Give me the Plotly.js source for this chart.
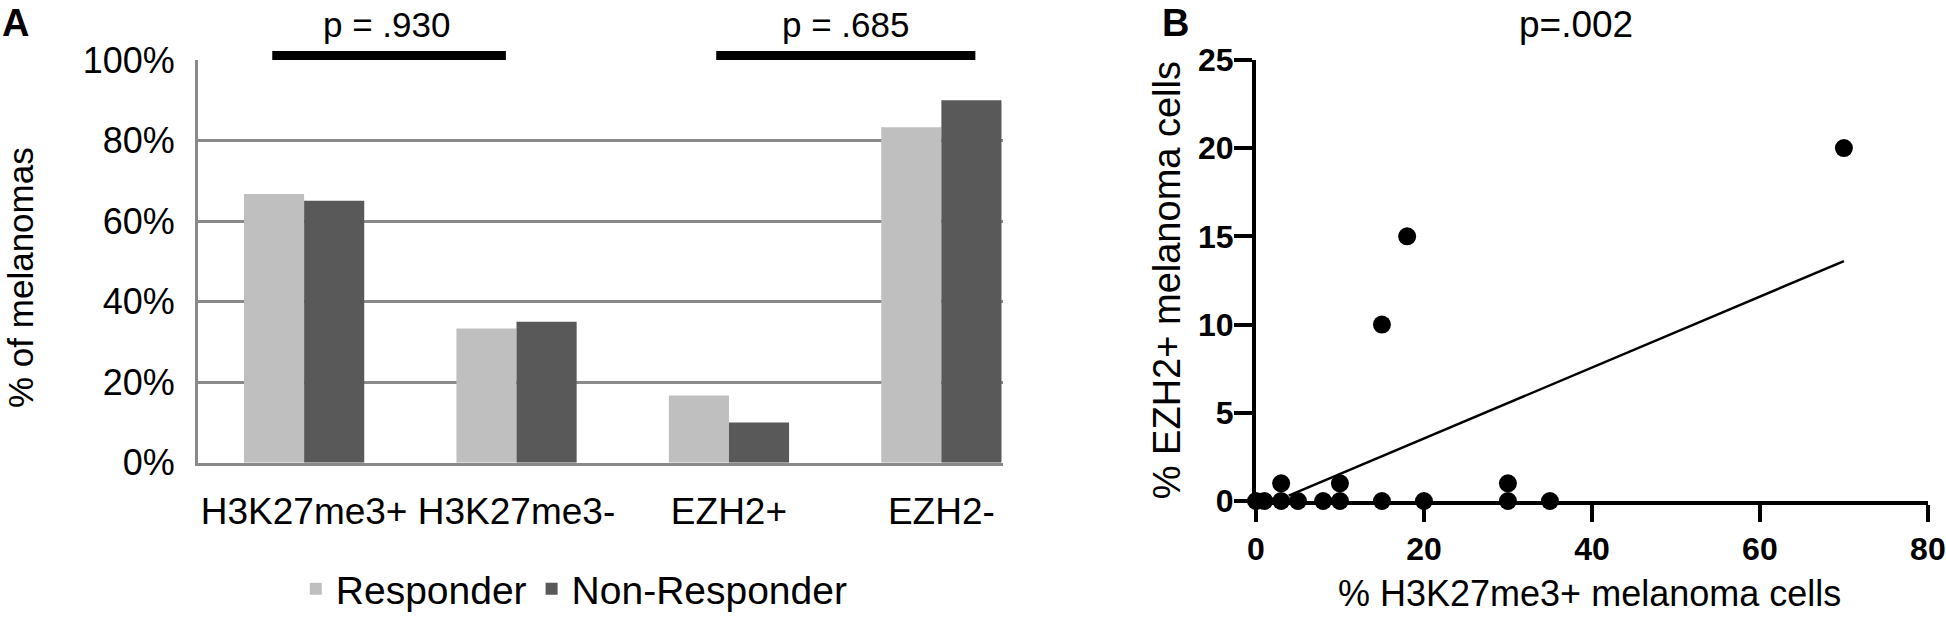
<!DOCTYPE html>
<html>
<head>
<meta charset="utf-8">
<script src="https://cdn.plot.ly/plotly-3.0.1.min.js"></script>
<style>
  html, body { margin: 0; padding: 0; background: #fff; }
  #chart { width: 1946px; height: 621px; }
</style>
</head>
<body>
<div id="chart"></div>
<script>
const CHART = document.getElementById("chart");
const FONT = "Liberation Sans, Arial, sans-serif";

// panel A: share of melanomas per marker status
var markers = ["H3K27me3+", "H3K27me3-", "EZH2+", "EZH2-"];
var responder = [0.667, 0.333, 0.167, 0.833];
var nonResponder = [0.65, 0.35, 0.10, 0.90];
var pLabels = ["p = .930", "p = .685"];

// panel B: % H3K27me3+ vs % EZH2+ melanoma cells
var h3k27 = [0, 1, 3, 5, 8, 10, 15, 20, 30, 35, 3, 10, 30, 15, 18, 70];
var ezh2 = [0, 0, 0, 0, 0, 0, 0, 0, 0, 0, 1, 1, 1, 10, 15, 20];
var fitX = [3.9, 70];
var fitY = [0.3, 13.6];

// top of the bar plot in paper units, used for the p-value brackets
var topA = 0.9018;

var traces = [
    {
        x: markers, y: responder, type: "bar", name: "Responder",
        marker: {color: "#bfbfbf"}, xaxis: "x", yaxis: "y"
    },
    {
        x: markers, y: nonResponder, type: "bar", name: "Non-Responder",
        marker: {color: "#595959"}, xaxis: "x", yaxis: "y"
    },
    {
        x: fitX, y: fitY, mode: "lines", type: "scatter", showlegend: false,
        line: {color: "#000", width: 2.5}, xaxis: "x2", yaxis: "y2"
    },
    {
        x: h3k27, y: ezh2, mode: "markers", type: "scatter", showlegend: false,
        marker: {color: "#000", size: 18}, cliponaxis: false,
        xaxis: "x2", yaxis: "y2"
    }
];

var layout = {
    width: 1946,
    height: 621,
    margin: {l: 0, r: 0, t: 0, b: 0},
    paper_bgcolor: "#fff",
    plot_bgcolor: "rgba(0,0,0,0)",
    font: {family: FONT, size: 36, color: "#000"},
    barmode: "group",
    bargap: 0.434,
    bargroupgap: 0,
    showlegend: true,
    legend: {
        orientation: "h", x: 0.152, y: 0.034, xanchor: "left", yanchor: "middle",
        font: {size: 39}, itemwidth: 30, traceorder: "normal"
    },
    xaxis: {
        domain: [0.1017, 0.5154],
        range: [-0.5, 3.29],
        showline: true, linecolor: "#8a8a8a", linewidth: 3,
        showgrid: false, zeroline: false, ticks: "",
        tickfont: {size: 37}, ticklabelstandoff: 14,
        fixedrange: true
    },
    yaxis: {
        domain: [0.2415, topA],
        range: [0, 1],
        dtick: 0.2, tickformat: ".0%",
        showline: true, linecolor: "#8a8a8a", linewidth: 3,
        showgrid: true, gridcolor: "#8a8a8a", gridwidth: 3,
        zeroline: false, ticks: "",
        tickfont: {size: 36}, ticklabelstandoff: 13
    },
    xaxis2: {
        domain: [0.6454, 0.9907],
        range: [0, 80], dtick: 20,
        showline: true, linecolor: "#000", linewidth: 4,
        showgrid: false, zeroline: false,
        ticks: "outside", ticklen: 17, tickwidth: 4, tickcolor: "#000",
        tickfont: {size: 32, weight: "bold"},
        anchor: "y2"
    },
    yaxis2: {
        domain: [0.1787, 0.9018],
        range: [0, 25], dtick: 5,
        showline: true, linecolor: "#000", linewidth: 4,
        showgrid: false, zeroline: false,
        ticks: "outside", ticklen: 18, tickwidth: 4, tickcolor: "#000",
        tickfont: {size: 32, weight: "bold"}, ticklabelstandoff: -6,
        anchor: "x2"
    },
    shapes: [
        {type: "rect", xref: "x", yref: "paper", x0: -0.15, x1: 0.95, y0: topA, y1: topA + 0.0145,
         fillcolor: "#000", line: {width: 0}},
        {type: "rect", xref: "x", yref: "paper", x0: 1.94, x1: 3.16, y0: topA, y1: topA + 0.0145,
         fillcolor: "#000", line: {width: 0}}
    ],
    annotations: [
        {text: "<b>A</b>", xref: "paper", yref: "paper", x: 0, y: 1, xanchor: "left", yanchor: "top",
         showarrow: false, font: {size: 38}},
        {text: "<b>B</b>", xref: "paper", yref: "paper", x: 0.5963, y: 1, xanchor: "left", yanchor: "top",
         showarrow: false, font: {size: 38}},
        {text: pLabels[0], xref: "x", yref: "paper", x: 0.39, y: 0.96, xanchor: "center", yanchor: "middle",
         showarrow: false, font: {size: 35}},
        {text: pLabels[1], xref: "x", yref: "paper", x: 2.55, y: 0.96, xanchor: "center", yanchor: "middle",
         showarrow: false, font: {size: 35}},
        {text: "% of melanomas", xref: "paper", yref: "paper", x: 0.0105, y: 0.545,
         xanchor: "center", yanchor: "middle",
         textangle: -90, showarrow: false, font: {size: 35}},
        {text: "p=.002", xref: "paper", yref: "paper", x: 0.81, y: 0.96, xanchor: "center", yanchor: "middle",
         showarrow: false, font: {size: 37}},
        {text: "% H3K27me3+ melanoma cells", xref: "paper", yref: "paper", x: 0.817, y: 0.027,
         xanchor: "center", yanchor: "middle", showarrow: false, font: {size: 36}},
        {text: "% EZH2+ melanoma cells", xref: "paper", yref: "paper", x: 0.5995, y: 0.54,
         xanchor: "center", yanchor: "middle",
         textangle: -90, showarrow: false, font: {size: 38}}
    ]
};

Plotly.newPlot(CHART, traces, layout, {displayModeBar: false, staticPlot: true});
</script>
</body>
</html>
